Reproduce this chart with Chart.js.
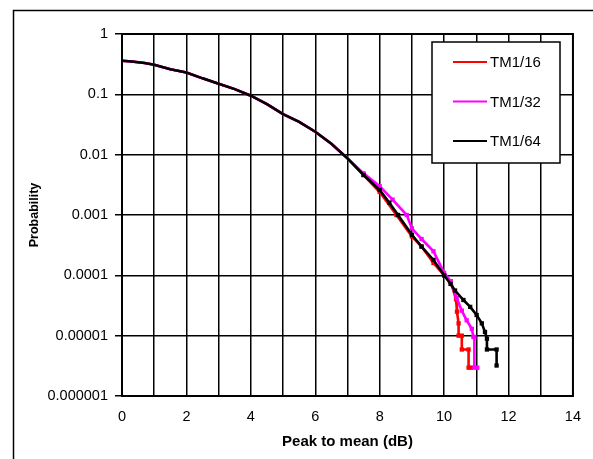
<!DOCTYPE html>
<html>
<head>
<meta charset="utf-8">
<script src="https://cdn.jsdelivr.net/npm/chart.js@4/dist/chart.umd.min.js"></script>
<style>
  html, body { margin: 0; padding: 0; background: #fff; }
  #wrap { width: 593px; height: 459px; position: relative; }
</style>
</head>
<body>
<div id="wrap"><canvas id="papr" width="593" height="459"></canvas></div>
<script>
// shared part of the three curves (they overlap up to ~7 dB)
const headDb = [0, 0.3, 0.7, 1, 1.5, 2, 2.5, 3, 3.5, 4, 4.5, 5, 5.5, 6, 6.5, 7];
const headProb = [0.36, 0.35, 0.33, 0.31, 0.26, 0.23, 0.184, 0.15, 0.122, 0.095, 0.069, 0.047, 0.035, 0.024, 0.0152, 0.0087];

const tm16Db = [7.5, 8, 8.52, 9, 9.3, 9.67, 10, 10.2, 10.37, 10.4, 10.45, 10.45, 10.55, 10.55, 10.76, 10.76, 10.83];
const tm16Prob = [0.0046, 0.0024, 0.001, 0.00044, 0.0003, 0.00016, 0.0001, 0.00008, 0.00004, 0.000025, 0.000016, 0.00001, 0.00001, 0.0000059, 0.0000059, 0.00000295, 0.00000295];

const tm32Db = [7.5, 8, 8.4, 8.84, 9, 9.3, 9.67, 10, 10.2, 10.39, 10.55, 10.7, 10.86, 10.91, 10.94, 10.94, 11.03];
const tm32Prob = [0.0049, 0.003, 0.0018, 0.001, 0.0006, 0.0004, 0.00025, 0.00011, 0.00008, 0.000042, 0.000026, 0.000018, 0.000013, 0.0000095, 0.0000095, 0.00000295, 0.00000295];

const tm64Db = [7.5, 8, 8.3, 8.57, 9, 9.3, 9.67, 10, 10.2, 10.34, 10.6, 10.81, 11.01, 11.17, 11.27, 11.33, 11.33, 11.63, 11.63];
const tm64Prob = [0.0046, 0.0026, 0.0016, 0.001, 0.00047, 0.0003, 0.00018, 0.0001, 0.000072, 0.000056, 0.000039, 0.00003, 0.000022, 0.000016, 0.0000115, 0.0000089, 0.0000059, 0.0000059, 0.0000032];

const seriesNames = ['TM1/16', 'TM1/32', 'TM1/64'];
const seriesColors = ['#ff0000', '#ff00ff', '#000000'];

const yTicks = [1, 0.1, 0.01, 0.001, 0.0001, 0.00001, 0.000001];
const yTickLabels = ['1', '0.1', '0.01', '0.001', '0.0001', '0.00001', '0.000001'];
const xTickLabels = ['0', '2', '4', '6', '8', '10', '12', '14'];

Chart.defaults.font.family = "'Liberation Sans', Arial, sans-serif";
Chart.defaults.color = '#000';

function toPoints(xs, ys) {
  return xs.map((x, i) => ({ x: x, y: ys[i] }));
}

const framePlugin = {
  id: 'frame',
  beforeDraw(chart) {
    const ctx = chart.ctx;
    ctx.save();
    ctx.fillStyle = '#fff';
    ctx.fillRect(0, 0, chart.width, chart.height);
    ctx.strokeStyle = '#000';
    ctx.lineWidth = 1.5;
    ctx.beginPath();
    ctx.moveTo(13.5, chart.height);
    ctx.lineTo(13.5, 10.5);
    ctx.lineTo(chart.width, 10.5);
    ctx.stroke();
    ctx.restore();
  },
  afterDatasetsDraw(chart) {
    const a = chart.chartArea;
    const ctx = chart.ctx;
    ctx.save();
    ctx.strokeStyle = '#000';
    ctx.lineWidth = 2;
    ctx.strokeRect(a.left, a.top, a.right - a.left, a.bottom - a.top);
    ctx.restore();
  }
};

const legendPlugin = {
  id: 'boxLegend',
  afterDraw(chart) {
    const ctx = chart.ctx;
    ctx.save();
    ctx.fillStyle = '#fff';
    ctx.fillRect(432, 42, 128, 121);
    ctx.strokeStyle = '#000';
    ctx.lineWidth = 1.5;
    ctx.strokeRect(432, 42, 128, 121);
    ctx.font = "15px 'Liberation Sans', Arial, sans-serif";
    ctx.textBaseline = 'middle';
    ctx.textAlign = 'left';
    seriesNames.forEach((name, i) => {
      const y = 62 + i * 39.5;
      ctx.strokeStyle = seriesColors[i];
      ctx.lineWidth = 2;
      ctx.beginPath();
      ctx.moveTo(453, y);
      ctx.lineTo(487, y);
      ctx.stroke();
      ctx.fillStyle = '#000';
      ctx.fillText(name, 490, y + 1);
    });
    ctx.restore();
  }
};

// small markers only on the separated tails, like the stepped sample points
const tailMarker = ctx => (ctx.dataIndex < headDb.length ? 0 : 1.2);
const lineStyle = { showLine: true, fill: false, borderWidth: 2.6, pointRadius: tailMarker, pointStyle: 'rect', tension: 0 };

new Chart(document.getElementById('papr'), {
  type: 'scatter',
  data: {
    datasets: [
      { ...lineStyle, label: seriesNames[0], order: 2, borderColor: seriesColors[0], backgroundColor: seriesColors[0],
        data: toPoints(headDb.concat(tm16Db), headProb.concat(tm16Prob)) },
      { ...lineStyle, label: seriesNames[1], order: 1, borderColor: seriesColors[1], backgroundColor: seriesColors[1],
        data: toPoints(headDb.concat(tm32Db), headProb.concat(tm32Prob)) },
      { ...lineStyle, label: seriesNames[2], order: 0, borderColor: seriesColors[2], backgroundColor: seriesColors[2],
        data: toPoints(headDb.concat(tm64Db), headProb.concat(tm64Prob)) }
    ]
  },
  options: {
    responsive: false,
    animation: false,
    layout: { padding: { left: 0, top: 34, right: 20, bottom: 0 } },
    plugins: { legend: { display: false }, tooltip: { enabled: false } },
    scales: {
      x: {
        type: 'linear',
        min: 0,
        max: 14,
        afterFit: s => { s.height = 63; },
        grid: { color: '#000', lineWidth: 1.5, drawTicks: false },
        border: { display: false },
        ticks: {
          stepSize: 1,
          autoSkip: false,
          maxRotation: 0,
          padding: 12,
          font: { size: 14.5 },
          callback: v => (v % 2 === 0 ? xTickLabels[v / 2] : '')
        },
        title: {
          display: true,
          text: 'Peak to mean (dB)',
          font: { size: 15, weight: 'bold' },
          padding: { top: 0, bottom: 8 }
        }
      },
      y: {
        type: 'logarithmic',
        min: 0.000001,
        max: 1,
        afterFit: s => { s.width = 122; },
        afterBuildTicks: s => { s.ticks = yTicks.map(v => ({ value: v })); },
        grid: { color: '#000', lineWidth: 1.5, tickLength: 7 },
        border: { display: false },
        ticks: {
          padding: 7,
          font: { size: 14.5 },
          callback: (v, i) => yTickLabels[i]
        },
        title: {
          display: true,
          text: 'Probability',
          font: { size: 12.5, weight: 'bold' },
          padding: { top: 27, bottom: 0 }
        }
      }
    }
  },
  plugins: [framePlugin, legendPlugin]
});
</script>
</body>
</html>
